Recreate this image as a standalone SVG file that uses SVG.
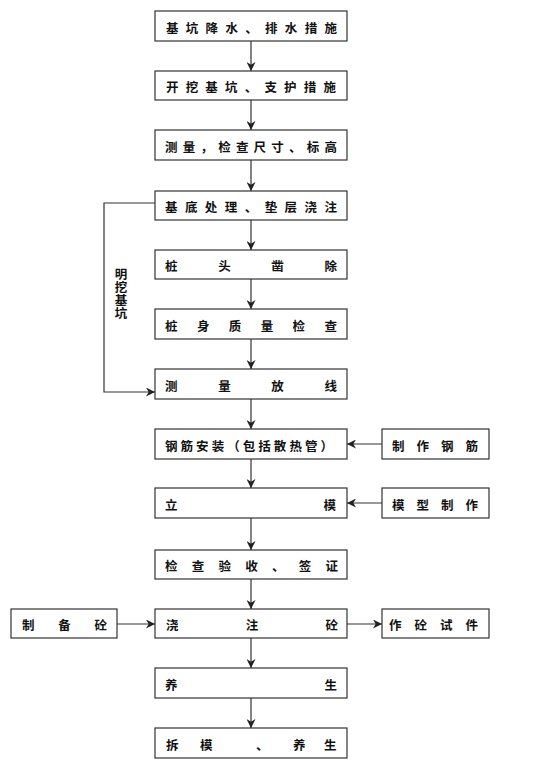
<svg xmlns="http://www.w3.org/2000/svg" width="555" height="776" viewBox="0 0 555 776">
<defs>
<style>
.box{fill:#fff;stroke:#333;stroke-width:1.2}
.ln{fill:none;stroke:#333;stroke-width:1.2}
text{font-family:"Noto Sans CJK SC","Noto Sans CJK JP",sans-serif;font-size:12.5px;font-weight:bold;fill:#111;dominant-baseline:central}
.vert{writing-mode:vertical-rl;letter-spacing:0.5px}
</style>
<marker id="ah" markerUnits="userSpaceOnUse" markerWidth="9" markerHeight="9" viewBox="0 0 10 10" refX="10" refY="5" orient="auto">
<path d="M0,0 L10,5 L0,10 L3,5 z" fill="#222"/>
</marker>
</defs>
<rect width="555" height="776" fill="#fff"/>
<g id="connectors">
<line class="ln" x1="251" y1="41" x2="251" y2="71" marker-end="url(#ah)"/>
<line class="ln" x1="251" y1="100" x2="251" y2="130" marker-end="url(#ah)"/>
<line class="ln" x1="251" y1="160" x2="251" y2="191" marker-end="url(#ah)"/>
<line class="ln" x1="251" y1="220" x2="251" y2="250" marker-end="url(#ah)"/>
<line class="ln" x1="251" y1="279" x2="251" y2="309" marker-end="url(#ah)"/>
<line class="ln" x1="251" y1="339" x2="251" y2="369" marker-end="url(#ah)"/>
<line class="ln" x1="251" y1="399" x2="251" y2="429" marker-end="url(#ah)"/>
<line class="ln" x1="251" y1="459" x2="251" y2="488" marker-end="url(#ah)"/>
<line class="ln" x1="251" y1="518" x2="251" y2="550" marker-end="url(#ah)"/>
<line class="ln" x1="251" y1="579" x2="251" y2="609" marker-end="url(#ah)"/>
<line class="ln" x1="251" y1="638" x2="251" y2="668" marker-end="url(#ah)"/>
<line class="ln" x1="251" y1="698" x2="251" y2="728" marker-end="url(#ah)"/>
<polyline class="ln" points="155,203 104,203 104,392 155,392" marker-end="url(#ah)"/>
<line class="ln" x1="382" y1="444" x2="347" y2="444" marker-end="url(#ah)"/>
<line class="ln" x1="382" y1="503" x2="347" y2="503" marker-end="url(#ah)"/>
<line class="ln" x1="117" y1="624" x2="155" y2="624" marker-end="url(#ah)"/>
<line class="ln" x1="347" y1="624" x2="382" y2="624" marker-end="url(#ah)"/>
</g>
<g id="label-mingwa">
<text class="vert" x="121" y="268">明挖基坑</text>
</g>
<g id="n1"><rect class="box" x="155" y="11" width="192" height="30"/><text x="166" y="27" textLength="171" lengthAdjust="spacing">基坑降水、排水措施</text></g>
<g id="n2"><rect class="box" x="155" y="71" width="192" height="29"/><text x="166" y="86" textLength="170" lengthAdjust="spacing">开挖基坑、支护措施</text></g>
<g id="n3"><rect class="box" x="155" y="130" width="192" height="30"/><text x="165" y="146" textLength="172" lengthAdjust="spacing">测量，检查尺寸、标高</text></g>
<g id="n4"><rect class="box" x="155" y="191" width="192" height="29"/><text x="165" y="206" textLength="172" lengthAdjust="spacing">基底处理、垫层浇注</text></g>
<g id="n5"><rect class="box" x="155" y="250" width="192" height="29"/><text x="165" y="265" textLength="172" lengthAdjust="spacing">桩头凿除</text></g>
<g id="n6"><rect class="box" x="155" y="309" width="192" height="30"/><text x="165" y="325" textLength="172" lengthAdjust="spacing">桩身质量检查</text></g>
<g id="n7"><rect class="box" x="155" y="369" width="192" height="30"/><text x="165" y="385" textLength="172" lengthAdjust="spacing">测量放线</text></g>
<g id="n8"><rect class="box" x="155" y="429" width="192" height="30"/><text x="165" y="445" textLength="168" lengthAdjust="spacing">钢筋安装（包括散热管）</text></g>
<g id="n9"><rect class="box" x="155" y="488" width="192" height="30"/><text x="165" y="504" textLength="171" lengthAdjust="spacing">立模</text></g>
<g id="n10"><rect class="box" x="155" y="550" width="192" height="29"/><text x="165" y="565" textLength="173" lengthAdjust="spacing">检查验收、签证</text></g>
<g id="n11"><rect class="box" x="155" y="609" width="192" height="29"/><text x="166" y="624" textLength="172" lengthAdjust="spacing">浇注砼</text></g>
<g id="n12"><rect class="box" x="155" y="668" width="192" height="30"/><text x="165" y="684" textLength="172" lengthAdjust="spacing">养生</text></g>
<g id="n13"><rect class="box" x="155" y="728" width="192" height="30"/><text y="744"><tspan x="166">拆</tspan><tspan x="200">模</tspan><tspan x="256">、</tspan><tspan x="293">养</tspan><tspan x="324">生</tspan></text></g>
<g id="r1"><rect class="box" x="382" y="429" width="107" height="30"/><text x="392" y="445" textLength="86" lengthAdjust="spacing">制作钢筋</text></g>
<g id="r2"><rect class="box" x="382" y="488" width="107" height="30"/><text x="392" y="504" textLength="86" lengthAdjust="spacing">模型制作</text></g>
<g id="r3"><rect class="box" x="382" y="609" width="107" height="29"/><text x="389" y="624" textLength="89" lengthAdjust="spacing">作砼试件</text></g>
<g id="l1"><rect class="box" x="11" y="609" width="106" height="29"/><text x="22" y="624" textLength="85" lengthAdjust="spacing">制备砼</text></g>
</svg>
